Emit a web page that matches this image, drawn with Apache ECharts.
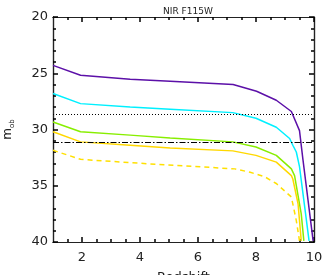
<!DOCTYPE html>
<html><head><meta charset="utf-8">
<script src="https://cdn.jsdelivr.net/npm/echarts@6/dist/echarts.min.js"></script>
<style>html,body{margin:0;padding:0;background:#fff}#c{width:330px;height:275px}</style>
</head><body><div id="c"></div>
<script>
// Redshift vs magnitude
const purpleX = [1, 1.95, 3.66, 5.04, 7.21, 8.02, 8.7, 9.22, 9.5, 9.62, 9.97];
const purpleY = [24.3, 25.18, 25.54, 25.72, 26.0, 26.6, 27.4, 28.4, 30.1, 32.7, 39.9];
const cyanX = [1, 1.95, 3.66, 5.04, 7.2, 8.0, 8.7, 9.16, 9.27, 9.39, 9.5, 9.83];
const cyanY = [26.8, 27.7, 28.0, 28.2, 28.5, 29.0, 29.8, 30.8, 31.4, 32.0, 33.3, 39.9];
const greenX = [1, 1.95, 3.66, 5.04, 7.2, 8.0, 8.7, 9.22, 9.33, 9.56, 9.65];
const greenY = [29.33, 30.2, 30.5, 30.75, 31.1, 31.55, 32.3, 33.5, 34.1, 37.5, 39.9];
const yellowX = [1, 1.95, 3.66, 5.04, 7.2, 8.0, 8.7, 9.22, 9.27, 9.45, 9.56];
const yellowY = [30.2, 31.1, 31.4, 31.65, 31.9, 32.3, 32.9, 34.1, 34.4, 36.6, 39.9];
const dashX = [1, 1.95, 3.66, 5.3, 7.27, 7.8, 8.3, 8.7, 9.22, 9.39, 9.5];
const dashY = [31.85, 32.65, 32.95, 33.2, 33.5, 33.8, 34.2, 34.8, 36.0, 38.1, 39.9];
const dottedLevel = 28.65;
const dashDotLevel = 31.1;
const xMajor = [2, 4, 6, 8, 10];
const xMinor = [1.5, 2.5, 3, 3.5, 4.5, 5, 5.5, 6.5, 7, 7.5, 8.5, 9, 9.5];
const yMajor = [20, 25, 30, 35, 40];
const yMinor = [21, 22, 23, 24, 26, 27, 28, 29, 31, 32, 33, 34, 36, 37, 38, 39];

const zip = (xs, ys) => xs.map((x, i) => [x, ys[i]]);
const font = 'DejaVu Sans';
const axisCol = '#222';

function xAx(pos, ticks, len, labels) {
  return {
    type: 'value', min: 1, max: 10, position: pos,
    axisLine: { show: true, onZero: false, lineStyle: { color: axisCol, width: 1.2 } },
    axisTick: { show: true, inside: true, length: len, customValues: ticks, lineStyle: { color: 'black', width: 1.5 } },
    axisLabel: labels ? { show: true, customValues: xMajor, color: '#222', fontFamily: font, fontSize: 13, margin: 9 } : { show: false },
    splitLine: { show: false }
  };
}
function yAx(pos, ticks, len, labels) {
  return {
    type: 'value', min: 20, max: 40, inverse: true, position: pos,
    axisLine: { show: true, onZero: false, lineStyle: { color: axisCol, width: 1.2 } },
    axisTick: { show: true, inside: true, length: len, customValues: ticks, lineStyle: { color: 'black', width: 1.5 } },
    axisLabel: labels ? { show: true, customValues: yMajor, color: '#222', fontFamily: font, fontSize: 13, margin: 5 } : { show: false },
    splitLine: { show: false }
  };
}

const xs = [xAx('bottom', xMajor, 5, true), xAx('bottom', xMinor, 3, false), xAx('top', xMajor, 5, false), xAx('top', xMinor, 3, false)];
xs[0].name = 'Redshift';
xs[0].nameLocation = 'middle';
xs[0].nameGap = 29;
xs[0].nameTextStyle = { color: '#222', fontFamily: font, fontSize: 13 };
const ys = [yAx('left', yMajor, 5, true), yAx('left', yMinor, 3, false), yAx('right', yMajor, 5, false), yAx('right', yMinor, 3, false)];
ys[0].name = '{m|m}{s|ob}';
ys[0].nameLocation = 'middle';
ys[0].nameRotate = 90;
ys[0].nameGap = 37;
ys[0].nameTextStyle = { rich: { m: { fontFamily: font, fontSize: 12, color: '#222', lineHeight: 16 }, s: { fontFamily: font, fontSize: 7, color: '#222', padding: [9, 0, 0, 0] } } };

function line(data, color, type) {
  return { type: 'line', data, symbol: 'none', silent: true, animation: false,
    lineStyle: { color, width: 1.5, type: type || 'solid' }, z: 3 };
}

const chart = echarts.init(document.getElementById('c'), null, { renderer: 'canvas' });
chart.setOption({
  animation: false,
  backgroundColor: '#fff',
  title: { text: 'NIR F115W', left: 183, textAlign: 'center', top: 2,
    textStyle: { fontFamily: font, fontSize: 9, fontWeight: 'normal', color: '#222' } },
  grid: { left: 53, right: 16, top: 17, bottom: 33, containLabel: false, outerBoundsMode: 'none' },
  xAxis: xs,
  yAxis: ys,
  series: [
    Object.assign(line([], '#000'), {
      markLine: { silent: true, symbol: 'none', label: { show: false }, animation: false,
        data: [
          { yAxis: dottedLevel, lineStyle: { color: '#000', width: 1, type: [1, 2] } },
          { yAxis: dashDotLevel, lineStyle: { color: '#000', width: 1, type: [6, 2, 1.5, 2] } }
        ] }
    }),
    line(zip(purpleX, purpleY), '#5c10a8'),
    line(zip(cyanX, cyanY), '#00f0ff'),
    line(zip(greenX, greenY), '#88ee00'),
    line(zip(yellowX, yellowY), '#ffd800'),
    line(zip(dashX, dashY), '#ffe000', [5, 4])
  ]
});
</script></body></html>
